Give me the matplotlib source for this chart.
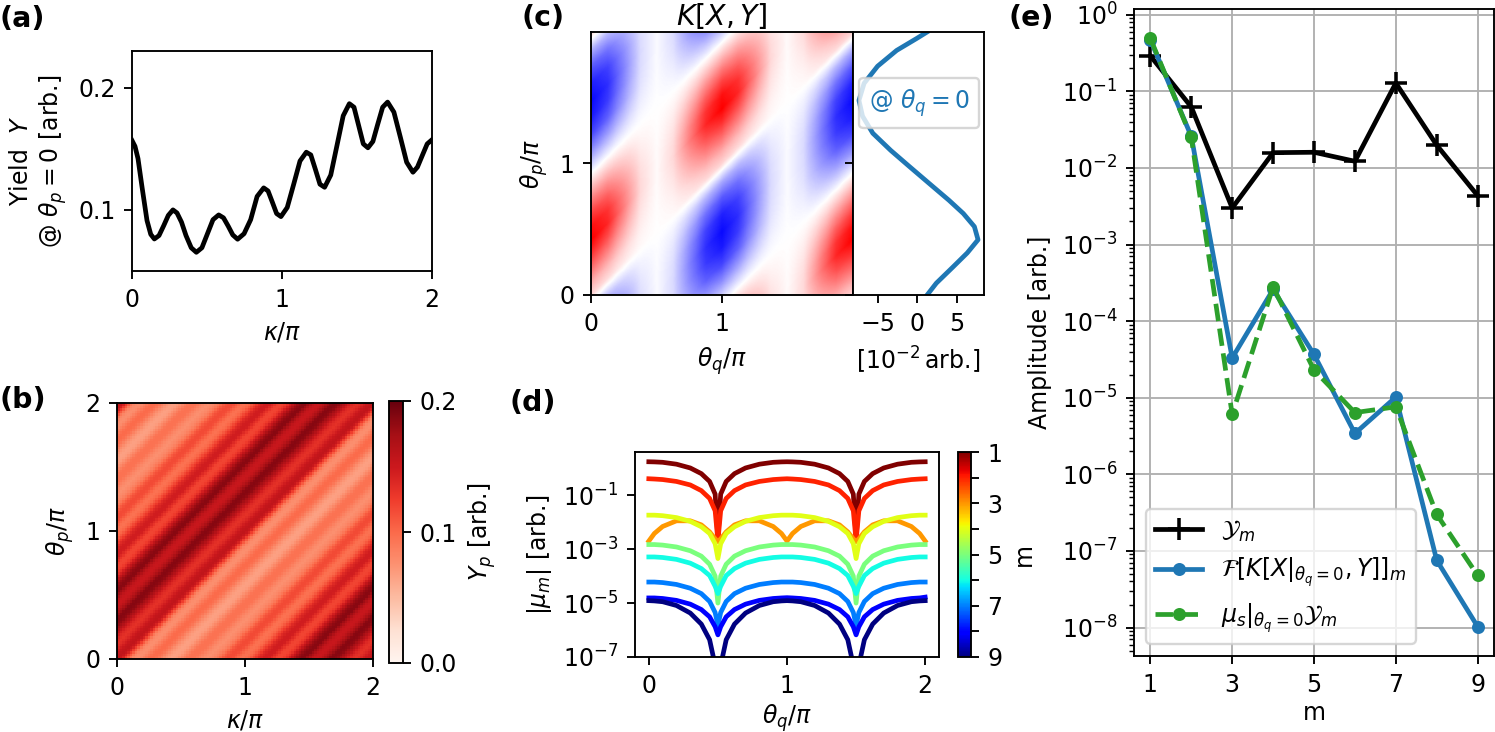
import numpy as np
import matplotlib
matplotlib.use("Agg")
import matplotlib.pyplot as plt
from matplotlib import colors, ticker

W, H, DPI = 1495, 732, 170

# (a) yield at theta_p = 0 (kappa in units of pi)
kappa_pts = [0.000, 0.020, 0.040, 0.067, 0.100, 0.125, 0.149, 0.180, 0.211, 0.242,
             0.273, 0.300, 0.330, 0.360, 0.395, 0.429, 0.466, 0.503, 0.540, 0.578,
             0.610, 0.641, 0.672, 0.704, 0.747, 0.791, 0.834, 0.878, 0.907, 0.936,
             0.964, 0.993, 1.035, 1.078, 1.120, 1.162, 1.192, 1.223, 1.253, 1.284,
             1.325, 1.367, 1.408, 1.449, 1.480, 1.511, 1.542, 1.573, 1.606, 1.638,
             1.671, 1.704, 1.746, 1.789, 1.831, 1.873, 1.903, 1.937, 1.968, 2.000]
yield_pts = [0.1568, 0.1520, 0.1420, 0.1186, 0.0913, 0.0800, 0.0762, 0.0790, 0.0870, 0.0955,
             0.1000, 0.0975, 0.0900, 0.0790, 0.0690, 0.0653, 0.0690, 0.0805, 0.0920, 0.0959,
             0.0935, 0.0868, 0.0795, 0.0760, 0.0805, 0.0920, 0.1110, 0.1180, 0.1155, 0.1062,
             0.0970, 0.0945, 0.1020, 0.1210, 0.1400, 0.1472, 0.1450, 0.1330, 0.1210, 0.1185,
             0.1285, 0.1530, 0.1770, 0.1869, 0.1840, 0.1690, 0.1540, 0.1508, 0.1560, 0.1700,
             0.1840, 0.1882, 0.1800, 0.1595, 0.1390, 0.1308, 0.1350, 0.1450, 0.1540, 0.1574]

# (c) side profile K[X|theta_q=0, Y] in 1e-2 arb.
side_theta = [0.00, 0.09, 0.21, 0.32, 0.42, 0.52, 0.62, 0.72, 0.85, 0.98,
              1.10, 1.23, 1.36, 1.48, 1.61, 1.74, 1.86, 1.95, 2.00]
side_val = [1.24, 2.4, 4.45, 6.3, 7.66, 7.2, 5.8, 4.0, 1.47, -1.05,
            -3.35, -5.6, -6.9, -7.35, -6.7, -5.0, -2.6, -0.1, 1.24]
# column amplitude of the K[X, Y] map versus theta_q
env_theta = [0.0, 0.125, 0.25, 0.375, 0.5, 0.625, 0.75, 0.875, 1.0,
             1.125, 1.25, 1.375, 1.5, 1.625, 1.75, 1.875, 2.0]
env_amp = [1.0, 0.85, 0.5, 0.15, 0.02, 0.15, 0.5, 0.85, 1.0,
           0.85, 0.5, 0.15, 0.02, 0.15, 0.5, 0.85, 1.0]

# (d) log10 |mu_m| versus theta_q / pi
theta_q = [0, 0.04, 0.1, 0.2, 0.3, 0.38, 0.44, 0.48, 0.5, 0.52, 0.56, 0.62, 0.7, 0.8, 0.9, 0.96,
           1.0, 1.04, 1.1, 1.2, 1.3, 1.38, 1.44, 1.48, 1.5, 1.52, 1.56, 1.62, 1.7, 1.8, 1.9, 1.96, 2.0]
mu_log = {
    1: [0.24, 0.235, 0.22, 0.15, 0.01, -0.20, -0.49, -0.96, -2.60, -0.96, -0.49, -0.20, 0.01, 0.15, 0.22, 0.235,
        0.24, 0.235, 0.22, 0.15, 0.01, -0.20, -0.49, -0.96, -2.60, -0.96, -0.49, -0.20, 0.01, 0.15, 0.22, 0.235, 0.24],
    2: [-0.39, -0.40, -0.42, -0.49, -0.62, -0.83, -1.12, -1.58, -2.70, -1.58, -1.12, -0.83, -0.62, -0.49, -0.42, -0.40,
        -0.39, -0.40, -0.42, -0.49, -0.62, -0.83, -1.12, -1.58, -2.70, -1.58, -1.12, -0.83, -0.62, -0.49, -0.42, -0.40, -0.39],
    3: [-2.70, -2.42, -2.16, -1.95, -1.95, -2.10, -2.36, -2.62, -2.72, -2.62, -2.36, -2.10, -1.95, -1.95, -2.16, -2.42,
        -2.70, -2.42, -2.16, -1.95, -1.95, -2.10, -2.36, -2.62, -2.72, -2.62, -2.36, -2.10, -1.95, -1.95, -2.16, -2.42, -2.70],
    4: [-1.74, -1.74, -1.76, -1.83, -1.97, -2.17, -2.42, -2.80, -3.35, -2.80, -2.42, -2.17, -1.97, -1.83, -1.76, -1.74,
        -1.74, -1.74, -1.76, -1.83, -1.97, -2.17, -2.42, -2.80, -3.35, -2.80, -2.42, -2.17, -1.97, -1.83, -1.76, -1.74, -1.74],
    5: [-2.83, -2.83, -2.85, -2.92, -3.06, -3.26, -3.56, -4.00, -5.00, -4.00, -3.56, -3.26, -3.06, -2.92, -2.85, -2.83,
        -2.83, -2.83, -2.85, -2.92, -3.06, -3.26, -3.56, -4.00, -5.00, -4.00, -3.56, -3.26, -3.06, -2.92, -2.85, -2.83, -2.83],
    6: [-3.29, -3.29, -3.31, -3.38, -3.52, -3.72, -3.98, -4.38, -4.65, -4.38, -3.98, -3.72, -3.52, -3.38, -3.31, -3.29,
        -3.29, -3.29, -3.31, -3.38, -3.52, -3.72, -3.98, -4.38, -4.65, -4.38, -3.98, -3.72, -3.52, -3.38, -3.31, -3.29, -3.29],
    7: [-4.22, -4.22, -4.24, -4.31, -4.45, -4.65, -4.94, -5.35, -5.83, -5.35, -4.94, -4.65, -4.45, -4.31, -4.24, -4.22,
        -4.22, -4.22, -4.24, -4.31, -4.45, -4.65, -4.94, -5.35, -5.83, -5.35, -4.94, -4.65, -4.45, -4.31, -4.24, -4.22, -4.22],
    8: [-4.81, -4.81, -4.83, -4.90, -5.04, -5.24, -5.51, -5.88, -6.18, -5.88, -5.51, -5.24, -5.04, -4.90, -4.83, -4.81,
        -4.80, -4.81, -4.83, -4.90, -5.04, -5.24, -5.51, -5.88, -6.18, -5.88, -5.51, -5.24, -5.04, -4.90, -4.83, -4.81, -4.78],
    9: [-4.91, -4.92, -4.95, -5.09, -5.37, -5.78, -6.36, -7.31, -9.00, -7.31, -6.36, -5.78, -5.37, -5.09, -4.95, -4.92,
        -4.91, -4.92, -4.95, -5.09, -5.37, -5.78, -6.36, -7.31, -9.00, -7.31, -6.36, -5.78, -5.37, -5.09, -4.95, -4.92, -4.91],
}

# (e) amplitudes per harmonic m
m_vals = [1, 2, 3, 4, 5, 6, 7, 8, 9]
ym_amp = [0.29, 0.0625, 3.0e-3, 0.0158, 0.016, 0.0122, 0.128, 0.0198, 4.35e-3]
fk_amp = [0.47, 0.0259, 3.3e-5, 2.59e-4, 3.67e-5, 3.42e-6, 1.02e-5, 7.55e-8, 1.03e-8]
mu_amp = [0.49, 0.025, 6.05e-6, 2.8e-4, 2.3e-5, 6.4e-6, 7.6e-6, 3.0e-7, 4.8e-8]


def px_axes(fig, left, top, right, bottom, **kw):
    return fig.add_axes([left / W, 1 - bottom / H, (right - left) / W, (bottom - top) / H], **kw)


def main() -> None:
    fig = plt.figure(figsize=(W / DPI, H / DPI), dpi=DPI)

    # (a)
    ax = px_axes(fig, 132, 51, 432, 271)
    ax.plot(kappa_pts, yield_pts, color="k", lw=2)
    ax.set_xlim(0, 2)
    ax.set_ylim(0.05, 0.23)
    ax.set_xticks([0, 1, 2])
    ax.set_yticks([0.1, 0.2])
    ax.set_xlabel(r"$\kappa/\pi$")
    ax.set_ylabel("Yield  $Y$\n@ $\\theta_p=0$ [arb.]")

    # (b) yield map, stripes follow kappa - theta_p
    grid = np.linspace(0, 2, 100)
    kk, tt = np.meshgrid(grid, grid)
    yp = np.interp((kk - tt) % 2, kappa_pts, yield_pts)
    ax = px_axes(fig, 117, 403, 373, 659)
    im = ax.imshow(yp, origin="lower", extent=[0, 2, 0, 2], cmap="Reds",
                   vmin=0, vmax=0.2, aspect="auto", interpolation="nearest")
    ax.set_xticks([0, 1, 2])
    ax.set_yticks([0, 1, 2])
    ax.set_xlabel(r"$\kappa/\pi$")
    ax.set_ylabel(r"$\theta_p/\pi$")
    cax = px_axes(fig, 389, 401, 403, 663)
    cb = fig.colorbar(im, cax=cax, ticks=[0, 0.1, 0.2])
    cb.set_label(r"$Y_p$ [arb.]")

    # (c) K[X, Y] map
    g = np.linspace(0, 2, 240)
    qq, pp = np.meshgrid(g, g)
    kmap = np.interp(qq, env_theta, env_amp) * np.interp((pp - qq) % 2, side_theta, side_val)
    vmax = np.abs(kmap).max()
    ax = px_axes(fig, 591, 32, 853, 295)
    ax.imshow(kmap, origin="lower", extent=[0, 2, 0, 2], cmap="bwr",
              vmin=-vmax, vmax=vmax, aspect="auto")
    ax.set_xticks([0, 1])
    ax.set_yticks([0, 1])
    ax.set_ylim(0, 2)
    ax.set_xlabel(r"$\theta_q/\pi$")
    ax.set_ylabel(r"$\theta_p/\pi$")
    ax.set_title(r"$K[X, Y]$", pad=3)
    axs = px_axes(fig, 853, 32, 984, 295, sharey=ax)
    axs.plot(side_val, side_theta, color="C0", lw=2, label=r"@ $\theta_q=0$")
    axs.tick_params(labelleft=False)
    axs.set_xticks([-5, 0, 5])
    axs.set_xlabel(r"[$10^{-2}\,$arb.]")
    axs.legend(loc="center right", bbox_to_anchor=(1.0, 0.73), handlelength=0,
               handletextpad=0, labelcolor="C0", borderaxespad=0.2)

    # (d) |mu_m|
    norm = colors.Normalize(1, 9)
    cmap = plt.get_cmap("jet_r")
    ax = px_axes(fig, 635, 452, 939, 657)
    for m, vals in mu_log.items():
        ax.plot(theta_q, 10.0 ** np.array(vals), color=cmap(norm(m)), lw=2)
    ax.set_yscale("log")
    ax.set_ylim(1e-7, 4)
    ax.yaxis.set_major_locator(ticker.FixedLocator([1e-7, 1e-5, 1e-3, 1e-1]))
    ax.yaxis.set_minor_locator(ticker.NullLocator())
    ax.set_xticks([0, 1, 2])
    ax.set_xlabel(r"$\theta_q/\pi$", labelpad=2)
    ax.set_ylabel(r"$|\mu_m|$ [arb.]")
    cax = px_axes(fig, 958, 452, 971, 657)
    sm = plt.cm.ScalarMappable(norm=norm, cmap=cmap)
    cb = fig.colorbar(sm, cax=cax)
    cb.set_ticks(m_vals)
    cb.set_ticklabels([str(m) if m % 2 else "" for m in m_vals])
    cax.invert_yaxis()
    cb.set_label("m")

    # (e) harmonic amplitudes
    ax = px_axes(fig, 1134, 9, 1494, 656)
    ax.plot(m_vals, ym_amp, color="k", marker="+", ms=9, mew=1.5, lw=2,
            label=r"$\mathcal{Y}_m$")
    ax.plot(m_vals, fk_amp, color="C0", marker="o", ms=4.5, lw=2,
            label=r"$\mathcal{F}[K[X|_{\theta_q=0}, Y]]_m$")
    ax.plot(m_vals, mu_amp, color="C2", marker="o", ms=4.5, lw=2, ls="--",
            label=r"$\mu_s|_{\theta_q=0}\mathcal{Y}_m$")
    ax.set_yscale("log")
    ax.set_xticks([1, 3, 5, 7, 9])
    ax.grid(True)
    ax.set_xlabel("m", labelpad=2)
    ax.set_ylabel("Amplitude [arb.]")
    ax.legend(loc="lower left")

    for x, y, s in [(0, 5, "(a)"), (0, 386, "(b)"), (522, 4, "(c)"),
                    (510, 389, "(d)"), (1008, 4, "(e)")]:
        fig.text(x / W, 1 - y / H, s, fontsize=12, fontweight="bold", va="top", ha="left")

    fig.savefig("out.png", dpi=DPI)


if __name__ == "__main__":
    main()
